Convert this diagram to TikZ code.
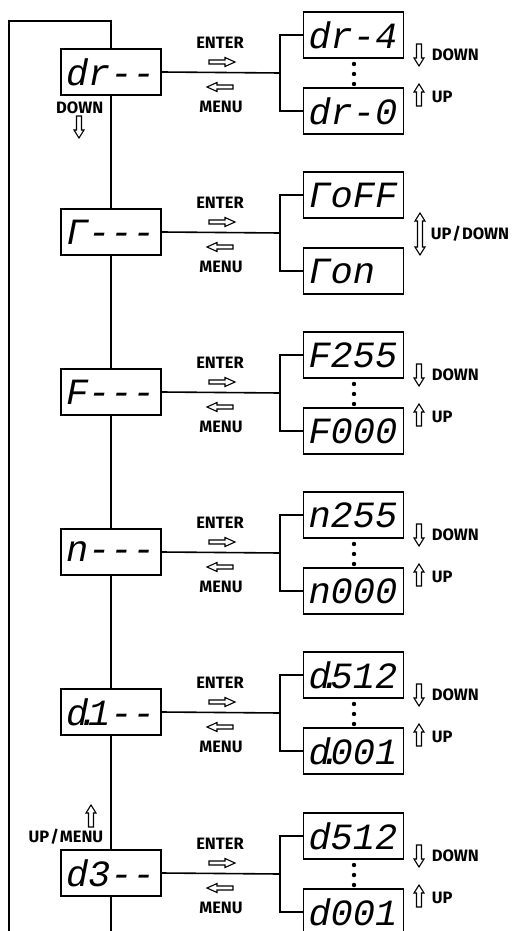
\documentclass[tikz,border=0pt]{standalone}
\usepackage{fontspec}
\setmainfont{Fira Sans}
\newfontfamily\segfont{Liberation Mono}
\tikzset{
  disp/.style={draw, line width=1.6pt, minimum width=100pt, minimum height=46pt,
    inner sep=0pt, text width=90pt, align=left,
    font=\segfont\itshape\fontsize{37}{37}\selectfont},
  keylbl/.style={inner sep=0pt, font=\bfseries\fontsize{16.5}{16.5}\selectfont},
  rarrow/.pic={\draw[line width=1.1pt] (-13,-2) -- (3,-2) -- (3,-4.5) -- (13,0)
    -- (3,4.5) -- (3,2) -- (-13,2) -- cycle;},
  darrow/.pic={\draw[line width=1.1pt] (-2.5,-11) -- (-2.5,3) -- (-5,3) -- (0,11)
    -- (5,3) -- (2.5,3) -- (2.5,-11) -- cycle;},
  udarrow/.pic={\draw[line width=1.1pt] (0,-21) -- (5,-13) -- (2.5,-13) -- (2.5,13)
    -- (5,13) -- (0,21) -- (-5,13) -- (-2.5,13) -- (-2.5,-13) -- (-5,-13) -- cycle;}
}
\begin{document}
\begin{tikzpicture}[x=1pt, y=-1pt, line width=1.6pt]
    \useasboundingbox (0,0) rectangle (512,931);
    \foreach \i/\c/\main/\hi/\lo in {
        1/72/dr--/dr-4/dr-0,
        2/232/Γ---/ΓoFF/Γon,
        3/392/F---/F255/F000,
        4/552/n---/n255/n000,
        5/712/{d\makebox[0pt]{.}1--}/{d\makebox[0pt]{.}512}/{d\makebox[0pt]{.}001},
        6/873/d3--/d512/d001}{
        \node[disp] (m\i) at (111,\c) {\main};
        \node[disp] (t\i) at (353.5,\c-37) {\hi};
        \node[disp] (u\i) at (353.5,\c+39) {\lo};
        \coordinate (b\i) at (280,\c+1);
        \draw (m\i.east) -- (b\i);
        \draw (t\i.west) -| (b\i) |- (u\i.west);
        \node[keylbl] (enter\i) at (220,\c-29) {ENTER};
        \node[keylbl] (menu\i) at (221,\c+35) {MENU};
        \path (222,\c-10) pic {rarrow};
        \path (220,\c+15) pic[rotate=180] {rarrow};
    }
    \foreach \i/\c in {1/72,3/392,4/552,5/712,6/873}{
        \foreach \d in {-8,2,12}
            \fill (354,\c+\d) circle (2.2);
        \path (419,\c-17) pic {darrow};
        \path (419,\c+23) pic[rotate=180] {darrow};
        \node[keylbl, anchor=west] (down\i) at (431,\c-17) {DOWN};
        \node[keylbl, anchor=west] (up\i) at (431,\c+25) {UP};
    }
    \path (420,234) pic {udarrow};
    \node[keylbl, anchor=west] (updown) at (430,234) {UP\kern1pt/\kern1pt DOWN};
    \coordinate (topL) at (9,21);
    \coordinate (topM) at (111,21);
    \coordinate (botL) at (9,935);
    \coordinate (botM) at (111,935);
    \draw (botL) -- (topL) -- (topM) -- (m1) -- (m2) -- (m3) -- (m4) -- (m5) -- (m6) -- (botM);
    \node[keylbl, anchor=east] (down0) at (104,108) {DOWN};
    \path (79,127) pic {darrow};
    \node[keylbl, anchor=east] (upmenu) at (104,837) {UP\kern1pt/\kern1pt MENU};
    \path (91,816) pic[rotate=180] {darrow};
\end{tikzpicture}
\end{document}
